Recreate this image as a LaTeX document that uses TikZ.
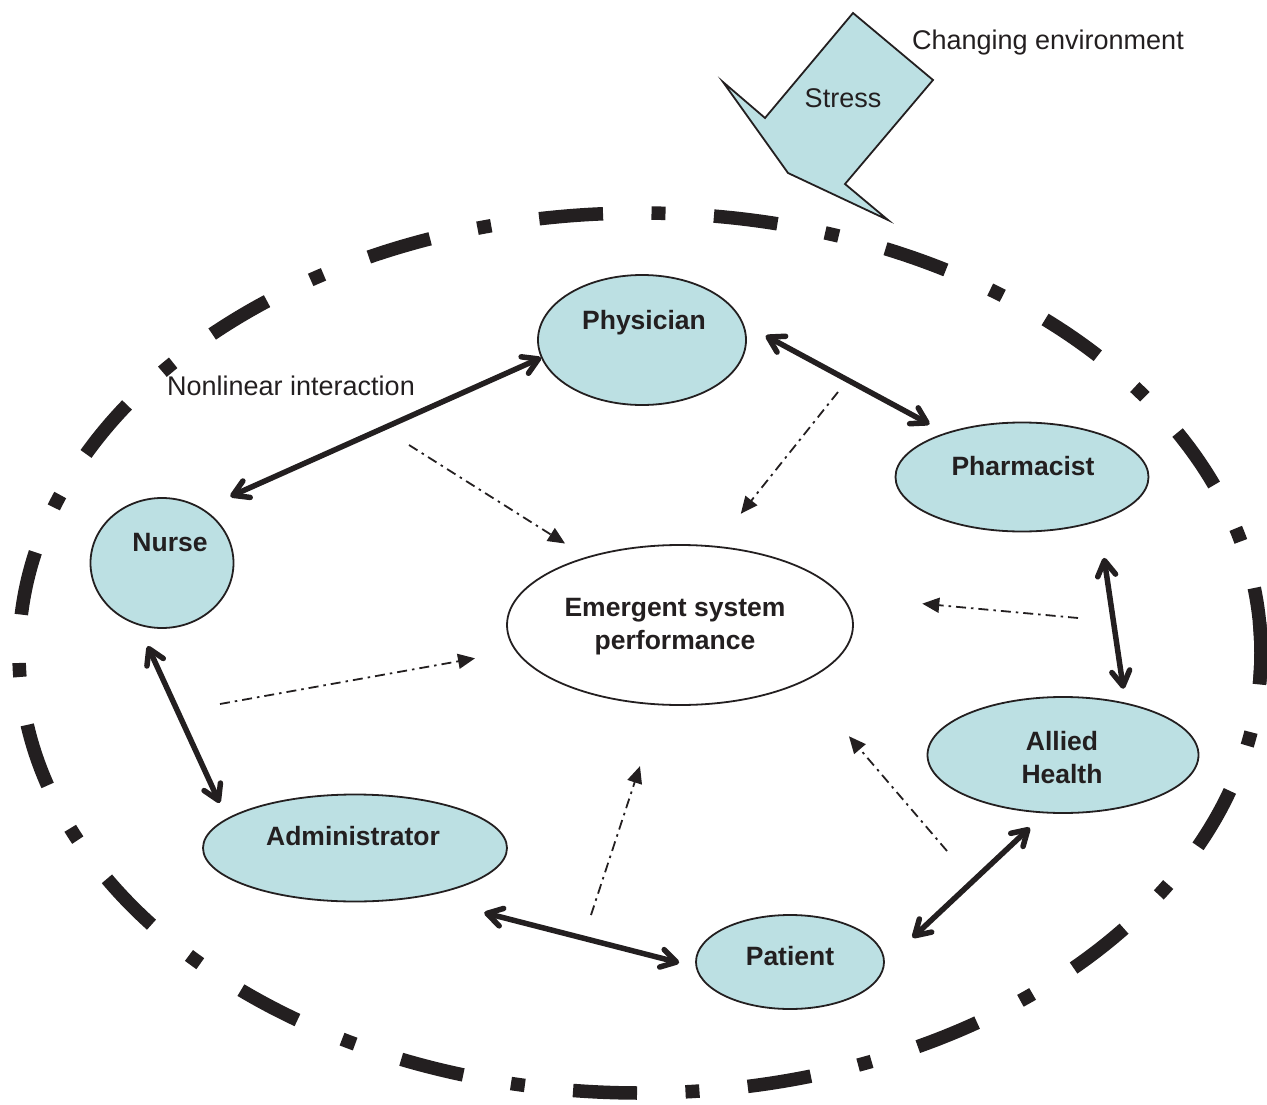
\documentclass[tikz,border=0pt]{standalone}
\usepackage{fontspec}
\setmainfont{Liberation Sans}
\usetikzlibrary{arrows.meta,shapes.geometric}
\definecolor{ink}{HTML}{231F20}
\definecolor{nodeblue}{RGB}{188,224,227}
\tikzset{
  actor/.style={ellipse, draw=ink, line width=1.8pt, fill=nodeblue, inner sep=0pt},
  lbl/.style={text=ink, font=\fontsize{26.5}{33}\selectfont\bfseries, align=center, inner sep=0pt},
  plain/.style={text=ink, font=\fontsize{27}{32}\selectfont, inner sep=0pt},
  biarr/.style={line width=5.5pt, draw=ink, line cap=round,
    arrows={Straight Barb[length=15pt,width=18pt,round]-Straight Barb[length=15pt,width=18pt,round]}},
  infl/.style={line width=1.8pt, draw=ink, dash pattern=on 10pt off 5pt on 2.5pt off 5pt,
    -{Triangle[length=17pt,width=15pt]}},
  boundary/.style={line width=13.5pt, draw=ink, dash pattern=on 64pt off 48.5pt on 14pt off 48.5pt, dash phase=32.5pt}
}
\begin{document}
\begin{tikzpicture}[x=1pt,y=-1pt]
\useasboundingbox (0,0) rectangle (1267,1105);
% system boundary
\draw[boundary] (640,653) ellipse [x radius=621, y radius=440];
\draw[line width=13.5pt, draw=ink] (640,653) ++(-4:621 and 440) arc[start angle=-4, end angle=4, x radius=621, y radius=440];
% stress arrow
\draw[ink, line width=1.8pt, fill=nodeblue, line join=miter]
  (853,13) -- (933,80) -- (845,184) -- (888,220) -- (788,173) -- (723,82) -- (765,118) -- cycle;
\node[plain] (stress) at (843,98) {Stress};
\node[plain] (env) at (1048,43) {Changing environment};
\node[plain, anchor=west] (nonlin) at (167,386) {Nonlinear interaction};
% nodes
\node[actor, minimum width=208pt, minimum height=130pt] (phy) at (642,340) {};
\node[actor, minimum width=143pt, minimum height=130pt] (nurse) at (162,563) {};
\node[actor, minimum width=253pt, minimum height=109pt] (pha) at (1022,477) {};
\node[actor, minimum width=271pt, minimum height=116pt] (all) at (1063,755) {};
\node[actor, minimum width=304pt, minimum height=107pt] (adm) at (355,848) {};
\node[actor, minimum width=188pt, minimum height=94pt] (pat) at (790,962) {};
\node[actor, fill=white, minimum width=346pt, minimum height=160pt] (emg) at (680,625) {};
% labels
\node[lbl] (phyt) at (644,323) {Physician};
\node[lbl] (nurset) at (170,543) {Nurse};
\node[lbl] (phat) at (1023,466) {Pharmacist};
\node[lbl] (allt) at (1062,758) {Allied\\Health};
\node[lbl] (admt) at (353,836) {Administrator};
\node[lbl] (patt) at (790,956) {Patient};
\node[lbl] (emgt) at (675,626.5) {Emergent system\\performance};
% nonlinear interactions
\draw[biarr, shorten <=30pt] (nurse.53) -- (phy.190);
\draw[biarr, shorten <=25pt, shorten >=18pt] (phy.9) -- (pha.150);
\draw[biarr, shorten <=37pt, shorten >=14pt] (pha.-30) -- (all.40);
\draw[biarr, shorten <=23pt, shorten >=17pt] (nurse.249) -- (adm.167);
\draw[biarr, shorten <=64pt, shorten >=17pt] (adm.324) -- (pat.183);
\draw[biarr, shorten <=38pt, shorten >=21pt] (pat.-1.4) -- (all.253);
% influences on emergent performance
\coordinate (sa) at (409,445);
\coordinate (sb) at (838,392);
\coordinate (sc) at (1078,618);
\coordinate (sd) at (220,704);
\coordinate (se) at (591,915);
\coordinate (sf) at (947,851);
\draw[infl, shorten >=25pt] (sa) -- (emg.144);
\draw[infl, shorten >=41pt] (sb) -- (emg.66);
\draw[infl, shorten >=80pt] (sc) -- (emg.10.4);
\draw[infl, shorten >=41pt] (sd) -- (emg.189.4);
\draw[infl, shorten >=64pt] (se) -- (emg.256.6);
\draw[infl, shorten >=71pt] (sf) -- (emg.335);
\end{tikzpicture}
\end{document}
